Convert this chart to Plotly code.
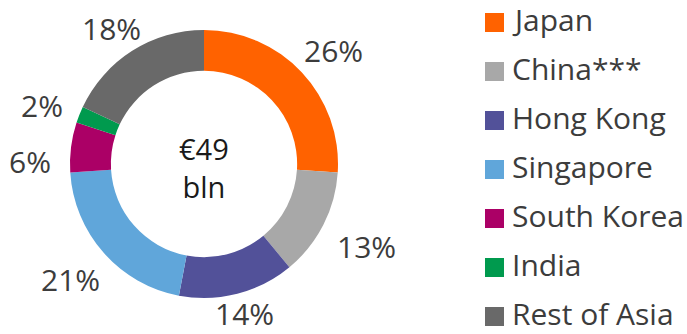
import math
import plotly.graph_objects as go

# Share of the €49 bln Asian exposure by country
countries = ["Japan", "China***", "Hong Kong", "Singapore", "South Korea", "India", "Rest of Asia"]
shares = [26, 13, 14, 21, 6, 2, 18]
colors = ["#FF6200", "#A8A8A8", "#525199", "#60A6DA", "#AB0066", "#009A4E", "#696969"]
center_text = "€49<br>bln"

W, H = 687, 334
FONT = "Open Sans"
TEXT_COLOR = "#3C3C3C"
FS = 30

fig = go.Figure()

# Donut centred at (204, 164) px with outer radius 134 px
cx, cy, r = 204, 164, 134
fig.add_trace(go.Pie(
    labels=countries,
    values=shares,
    sort=False,
    direction="clockwise",
    rotation=0,
    hole=0.695,
    marker=dict(colors=colors, line=dict(width=0)),
    textinfo="none",
    showlegend=False,
    hoverinfo="label+percent",
    domain=dict(x=[(cx - r) / W, (cx + r) / W],
                y=[(H - cy - r) / H, (H - cy + r) / H]),
))

# Percentage labels just outside each slice, placed along the slice's mid-angle
total = sum(shares)
cum = 0.0
label_r = 156
labels = []
for v in shares:
    mid = (cum + v / 2) / total * 2 * math.pi
    cum += v
    ux, uy = math.sin(mid), -math.cos(mid)  # screen direction (y down)
    txt = f"{round(100 * v / total)}%"
    w = 20 * len(txt)
    d = label_r + (w / 2) * abs(ux)
    labels.append([txt, cx + d * ux, cy + 4 + (d - 8) * uy])

# Keep neighbouring labels on the same side from overlapping
min_gap = 56
for side in (lambda x: x < cx, lambda x: x >= cx):
    group = sorted([lb for lb in labels if side(lb[1])], key=lambda lb: lb[2])
    for a, b in zip(group, group[1:]):
        if b[2] - a[2] < min_gap:
            b[2] = a[2] + min_gap

# Keep labels inside the canvas
edge = 20
for lb in labels:
    lb[2] = min(max(lb[2], edge), H - edge)

for txt, lx, ly in labels:
    fig.add_annotation(
        x=lx / W, y=(H - ly) / H, xref="paper", yref="paper",
        text=txt, showarrow=False, xanchor="center", yanchor="middle",
        yshift=1,
        font=dict(family=FONT, size=FS, color=TEXT_COLOR),
    )

# Centre label
fig.add_annotation(
    x=cx / W, y=(H - cy) / H, xref="paper", yref="paper",
    text=center_text, showarrow=False,
    font=dict(family=FONT, size=FS - 1, color="#1A1A1A"),
    xanchor="center", yanchor="middle",
    yshift=-3,
)

# Legend: coloured square plus country name, one row per slice
legend_x0 = 485
box = 19
row0 = 22.5
row_step = 49
for i, (name, col) in enumerate(zip(countries, colors)):
    yc = row0 + i * row_step
    fig.add_shape(
        type="rect", xref="paper", yref="paper",
        x0=legend_x0 / W, x1=(legend_x0 + box) / W,
        y0=(H - yc - box / 2) / H, y1=(H - yc + box / 2) / H,
        fillcolor=col, line=dict(width=0),
    )
    fig.add_annotation(
        x=(legend_x0 + box + 6) / W, y=(H - yc) / H, xref="paper", yref="paper",
        text=name, showarrow=False, xanchor="left", yanchor="middle",
        yshift=3,
        font=dict(family=FONT, size=FS, color=TEXT_COLOR),
    )

fig.update_layout(
    width=W, height=H,
    margin=dict(l=0, r=0, t=0, b=0),
    paper_bgcolor="white",
    plot_bgcolor="white",
)

fig.write_html("out.html")
